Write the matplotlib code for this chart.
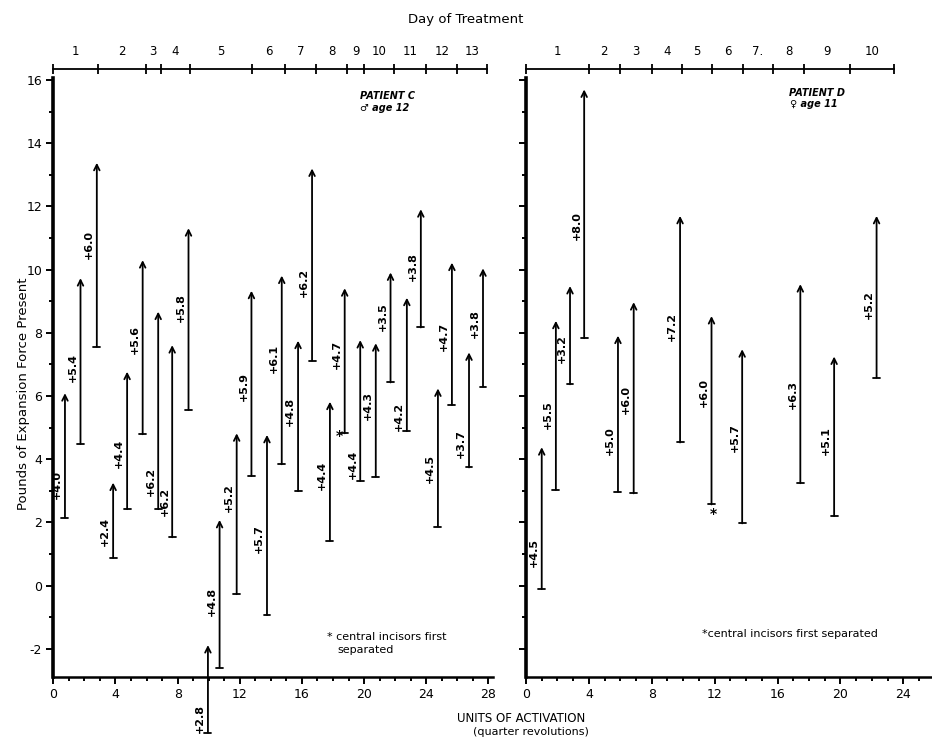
import matplotlib
matplotlib.use('Agg')
import matplotlib.pyplot as plt
from matplotlib.ticker import MultipleLocator, FixedLocator, NullFormatter, FixedFormatter

plt.rcParams['font.family'] = ['DejaVu Sans']
plt.rcParams['axes.unicode_minus'] = False

# ---------------- data: Patient C ----------------
left_x = [0.75, 1.75, 2.8, 3.85, 4.75, 5.75, 6.75, 7.65, 8.7, 9.95, 10.7, 11.8, 12.75, 13.75,
          14.7, 15.75, 16.65, 17.8, 18.75, 19.75, 20.75, 21.7, 22.75, 23.65, 24.75, 25.65, 26.75, 27.65]
left_bottom = [2.15, 4.48, 7.56, 0.88, 2.42, 4.79, 2.42, 1.53, 5.56, -4.65, -2.59, -0.27, 3.47, -0.93,
               3.84, 2.99, 7.12, 1.42, 4.82, 3.31, 3.45, 6.43, 4.89, 8.17, 1.87, 5.72, 3.74, 6.30]
left_top = [6.09, 9.73, 13.38, 3.26, 6.77, 10.30, 8.67, 7.61, 11.31, -1.88, 2.08, 4.82, 9.33, 4.77,
            9.81, 7.75, 13.2, 5.82, 9.41, 7.77, 7.67, 9.91, 9.11, 11.91, 6.24, 10.22, 7.38, 10.04]
left_labels = ['+4.0', '+5.4', '+6.0', '+2.4', '+4.4', '+5.6', '+6.2', '+6.2', '+5.8', '+2.8', '+4.8',
               '+5.2', '+5.9', '+5.7', '+6.1', '+4.8', '+6.2', '+4.4', '+4.7', '+4.4', '+4.3', '+3.5',
               '+4.2', '+3.8', '+4.5', '+4.7', '+3.7', '+3.8']
left_label_y = [3.2, 6.9, 10.8, 1.7, 4.2, 7.8, 3.3, 2.65, 8.8, -4.2, -0.5, 2.8, 6.3, 1.5,
                7.2, 5.5, 9.6, 3.5, 7.3, 3.85, 5.7, 8.5, 5.35, 10.1, 3.7, 7.9, 4.5, 8.3]
left_first_sep = 18          # index of arrow where central incisors first separated
left_days = ['1', '2', '3', '4', '5', '6', '7', '8', '9', '10', '11', '12', '13']
left_day_bounds = [0, 2.9, 5.95, 6.9, 8.8, 12.8, 14.9, 16.9, 18.9, 20.0, 21.9, 24.0, 26.0, 27.9]

# ---------------- data: Patient D ----------------
right_x = [1.0, 1.9, 2.8, 3.7, 5.85, 6.85, 9.8, 11.8, 13.75, 17.45, 19.6, 22.3]
right_bottom = [-0.11, 3.03, 6.37, 7.83, 2.97, 2.92, 4.53, 2.57, 1.97, 3.24, 2.20, 6.58]
right_top = [4.38, 8.38, 9.48, 15.7, 7.91, 8.97, 11.70, 8.53, 7.48, 9.54, 7.25, 11.70]
right_labels = ['+4.5', '+5.5', '+3.2', '+8.0', '+5.0', '+6.0', '+7.2', '+6.0', '+5.7', '+6.3', '+5.1', '+5.2']
right_label_y = [1.04, 5.4, 7.5, 11.4, 4.6, 5.9, 8.2, 6.1, 4.7, 6.05, 4.6, 8.9]
right_first_sep = 7
right_days = ['1', '2', '3', '4', '5', '6', '7.', '8', '9', '10']
right_day_bounds = [0, 4.0, 5.95, 8.0, 9.9, 11.85, 13.8, 15.7, 17.7, 20.6, 23.4]

W, H = 932, 738
fig = plt.figure(figsize=(W / 100, H / 100), dpi=100)

y_bot_px, y_top_px = 677.3, 78.4
axL = fig.add_axes([53.3 / W, 1 - y_bot_px / H, 439.8 / W, (y_bot_px - y_top_px) / H])
axR = fig.add_axes([526.0 / W, 1 - y_bot_px / H, 405.6 / W, (y_bot_px - y_top_px) / H])


def style(ax, xmax, ylabels):
    ax.set_xlim(0, xmax)
    ax.set_ylim(-2.9, 16.05)
    for s in ['top', 'right']:
        ax.spines[s].set_visible(False)
    ax.spines['left'].set_linewidth(2.6)
    ax.spines['bottom'].set_linewidth(1.8)
    ax.xaxis.set_major_locator(MultipleLocator(4))
    ax.xaxis.set_minor_locator(MultipleLocator(1))
    ax.yaxis.set_major_locator(MultipleLocator(2))
    ax.yaxis.set_minor_locator(MultipleLocator(1))
    ax.tick_params(which='both', direction='out', width=1.4)
    ax.tick_params(which='major', length=5, labelsize=9, pad=3)
    ax.tick_params(which='minor', length=3)
    if not ylabels:
        ax.yaxis.set_major_formatter(NullFormatter())


def draw_arrows(ax, xs, bots, tops, labels, laby):
    for x, b, t, lab, ly in zip(xs, bots, tops, labels, laby):
        ax.annotate('', xy=(x, t), xytext=(x, b),
                    arrowprops=dict(arrowstyle=']->,widthA=0.25,lengthA=0', lw=1.3,
                                    color='black', shrinkA=0, shrinkB=0, mutation_scale=10),
                    annotation_clip=False)
        ax.annotate(lab, xy=(x, ly), xytext=(-2, 0), textcoords='offset points',
                    rotation=90, ha='right', va='center', fontsize=8, fontweight='bold',
                    annotation_clip=False)


def day_axis(ax, bounds, days):
    t = ax.twiny()
    t.set_xlim(ax.get_xlim())
    for s in ['left', 'right', 'bottom']:
        t.spines[s].set_visible(False)
    t.spines['top'].set_position(('outward', 7))
    t.spines['top'].set_bounds(bounds[0], bounds[-1])
    t.spines['top'].set_linewidth(1.3)
    t.xaxis.set_major_locator(FixedLocator(bounds))
    t.xaxis.set_major_formatter(NullFormatter())
    centers = [(a + b) / 2 for a, b in zip(bounds[:-1], bounds[1:])]
    t.xaxis.set_minor_locator(FixedLocator(centers))
    t.xaxis.set_minor_formatter(FixedFormatter(days))
    t.tick_params(which='major', direction='inout', length=7, width=1.3)
    t.tick_params(which='minor', length=0, labelsize=8.5, pad=8)
    return t


style(axL, 28.3, True)
style(axR, 25.8, False)
draw_arrows(axL, left_x, left_bottom, left_top, left_labels, left_label_y)
draw_arrows(axR, right_x, right_bottom, right_top, right_labels, right_label_y)
day_axis(axL, left_day_bounds, left_days)
day_axis(axR, right_day_bounds, right_days)

# asterisks marking first separation
axL.annotate('*', xy=(left_x[left_first_sep], left_bottom[left_first_sep]), xytext=(-1, -2),
             textcoords='offset points', ha='right', va='center', fontsize=10, fontweight='bold')
axR.annotate('*', xy=(right_x[right_first_sep], right_bottom[right_first_sep]), xytext=(1, -7),
             textcoords='offset points', ha='center', va='center', fontsize=10, fontweight='bold')

# patient annotations
axL.text(21.5, 15.5, 'PATIENT C', fontsize=7, style='italic', fontweight='bold', ha='center', va='center')
axL.text(21.3, 15.1, '♂ age 12', fontsize=7, style='italic', fontweight='bold', ha='center', va='center')
axR.text(18.5, 15.6, 'PATIENT D', fontsize=7, style='italic', fontweight='bold', ha='center', va='center')
axR.text(18.3, 15.25, '♀ age 11', fontsize=7, style='italic', fontweight='bold', ha='center', va='center')

# footnotes
axL.text(17.6, -1.63, '* central incisors first', fontsize=8, ha='left', va='center')
axL.text(18.3, -2.05, 'separated', fontsize=8, ha='left', va='center')
axR.text(11.2, -1.53, '*central incisors first separated', fontsize=8, ha='left', va='center')

# figure-level labels
fig.text(466 / W, 1 - 20 / H, 'Day of Treatment', fontsize=9.5, ha='center', va='center')
fig.text(24 / W, 1 - 394 / H, 'Pounds of Expansion Force Present', fontsize=9.5,
         rotation=90, ha='center', va='center')
fig.text(521 / W, 1 - 718 / H, 'UNITS OF ACTIVATION', fontsize=8.5, ha='center', va='center')
fig.text(531 / W, 1 - 732 / H, '(quarter revolutions)', fontsize=8, ha='center', va='center')

fig.savefig('out.png', dpi=100)
